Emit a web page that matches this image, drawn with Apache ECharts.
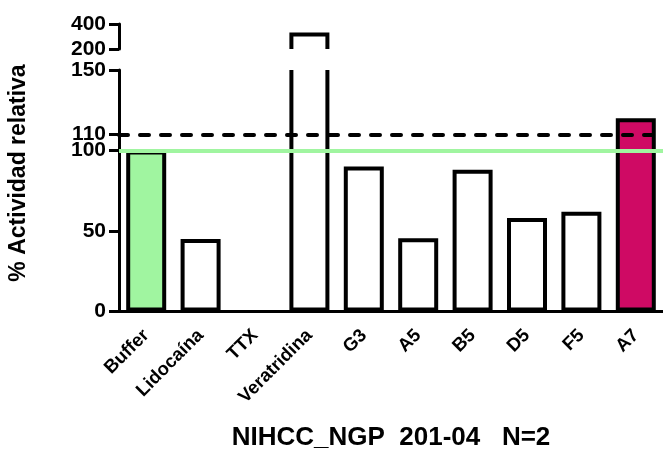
<!DOCTYPE html>
<html><head><meta charset="utf-8">
<script src="https://cdn.jsdelivr.net/npm/echarts@6/dist/echarts.min.js"></script>
<style>html,body{margin:0;padding:0;background:#fff}#c{width:663px;height:454px}</style>
</head><body><div id="c"></div>
<script>
// ---- data ----
const categories = ['Buffer', 'Lidocaína', 'TTX', 'Veratridina', 'G3', 'A5', 'B5', 'D5', 'F5', 'A7'];
const values = [100, 45, 0, 332, 90, 45.5, 88, 58, 62, 120];
const lowerTicks = [0, 50, 100, 110, 150];
const upperTicks = [200, 400];
const lowerRange = [0, 150];
const upperRange = [200, 400];
const referenceLine = 100;
const thresholdLine = 110;
const chartTitle = 'NIHCC_NGP  201-04   N=2';
const yTitle = '% Actividad relativa';

// ---- styling ----
const FONT = "'Liberation Sans', Arial, sans-serif";
const BAR_W = 40;
const BORDER = 4;
const GREEN = '#a0f5a0';
const MAGENTA = '#cf0a64';
const fillFor = { 'Buffer': GREEN, 'A7': MAGENTA };

const chart = echarts.init(document.getElementById('c'), null, { renderer: 'canvas' });

const lowerBarData = values.map((v, i) => (v > lowerRange[1] || v === 0) ? '-' : {
  value: v,
  itemStyle: { color: fillFor[categories[i]] || '#ffffff' }
});
const brokenData = [];
values.forEach((v, i) => { if (v > lowerRange[1]) brokenData.push([i, v]); });

const HW = (BAR_W - BORDER) / 2;
function renderLower(params, api) {
  const base = api.coord([api.value(0), lowerRange[0]]);
  const top = params.coordSys.y;
  const b = base[1] - BORDER / 2;
  return {
    type: 'polyline',
    shape: { points: [[base[0] - HW, top], [base[0] - HW, b], [base[0] + HW, b], [base[0] + HW, top]] },
    style: { stroke: '#000', lineWidth: BORDER, fill: 'none' }
  };
}
function renderUpper(params, api) {
  const t = api.coord([api.value(0), api.value(1)]);
  const bottom = params.coordSys.y + params.coordSys.height;
  const ty = t[1] + BORDER / 2;
  return {
    type: 'polyline',
    shape: { points: [[t[0] - HW, bottom], [t[0] - HW, ty], [t[0] + HW, ty], [t[0] + HW, bottom]] },
    style: { stroke: '#000', lineWidth: BORDER, fill: 'none' }
  };
}

const yLabel = { color: '#000', fontFamily: FONT, fontWeight: 'bold', fontSize: 21, margin: 13 };

chart.setOption({
  animation: false,
  backgroundColor: '#fff',
  textStyle: { fontFamily: FONT, fontWeight: 'bold', color: '#000' },
  grid: [
    { left: 119, right: 0, top: 70, height: 241.5 },
    { left: 119, right: 0, top: 24, height: 25 }
  ],
  xAxis: [
    {
      type: 'category', gridIndex: 0, data: categories,
      axisLine: { lineStyle: { color: '#000', width: 3 } },
      axisTick: { alignWithLabel: true, length: 6, lineStyle: { color: '#000', width: 3 } },
      axisLabel: { color: '#000', fontFamily: FONT, fontWeight: 'bold', fontSize: 18.5, rotate: 45, margin: 21, interval: 0 },
      splitLine: { show: false }
    },
    { type: 'category', gridIndex: 1, data: categories, show: false }
  ],
  yAxis: [
    {
      type: 'value', gridIndex: 0, min: lowerRange[0], max: lowerRange[1], interval: 10,
      axisLine: { show: true, lineStyle: { color: '#000', width: 3 } },
      axisTick: { show: true, length: 10, customValues: lowerTicks, lineStyle: { color: '#000', width: 3 } },
      axisLabel: { ...yLabel, formatter: v => lowerTicks.includes(v) ? String(v) : '' },
      splitLine: { show: false }
    },
    {
      type: 'value', gridIndex: 1, min: upperRange[0], max: upperRange[1], interval: 200,
      axisLine: { show: true, lineStyle: { color: '#000', width: 3 } },
      axisTick: { show: true, length: 10, customValues: upperTicks, lineStyle: { color: '#000', width: 3 } },
      axisLabel: { ...yLabel, formatter: v => upperTicks.includes(v) ? String(v) : '' },
      splitLine: { show: false }
    }
  ],
  series: [
    {
      type: 'bar', xAxisIndex: 0, yAxisIndex: 0, data: lowerBarData, barWidth: BAR_W,
      itemStyle: { borderColor: '#000', borderWidth: BORDER }, z: 2
    },
    {
      type: 'custom', xAxisIndex: 0, yAxisIndex: 0, data: brokenData,
      encode: { x: 0, y: 1 }, renderItem: renderLower, z: 2, clip: false
    },
    {
      type: 'custom', xAxisIndex: 1, yAxisIndex: 1, data: brokenData,
      encode: { x: 0, y: 1 }, renderItem: renderUpper, z: 2, clip: false
    },
    {
      type: 'line', xAxisIndex: 0, yAxisIndex: 0, data: categories.map(() => null), z: 6,
      silent: true,
      markLine: {
        silent: true, symbol: ['none', 'none'], label: { show: false },
        data: [
          { yAxis: thresholdLine, lineStyle: { color: '#000', width: 4, type: [9, 12], cap: 'round' } },
          { yAxis: referenceLine, lineStyle: { color: GREEN, width: 4, type: 'solid' } }
        ]
      }
    }
  ],
  graphic: [
    {
      type: 'text', x: 19, y: 173, rotation: Math.PI / 2,
      style: { text: yTitle, font: "bold 23px 'Liberation Sans', Arial, sans-serif", fill: '#000', align: 'center', verticalAlign: 'middle' }
    },
    {
      type: 'text', x: 391, y: 438,
      style: { text: chartTitle, font: "bold 26px 'Liberation Sans', Arial, sans-serif", fill: '#000', align: 'center', verticalAlign: 'middle' }
    }
  ]
});
</script>
</body></html>
